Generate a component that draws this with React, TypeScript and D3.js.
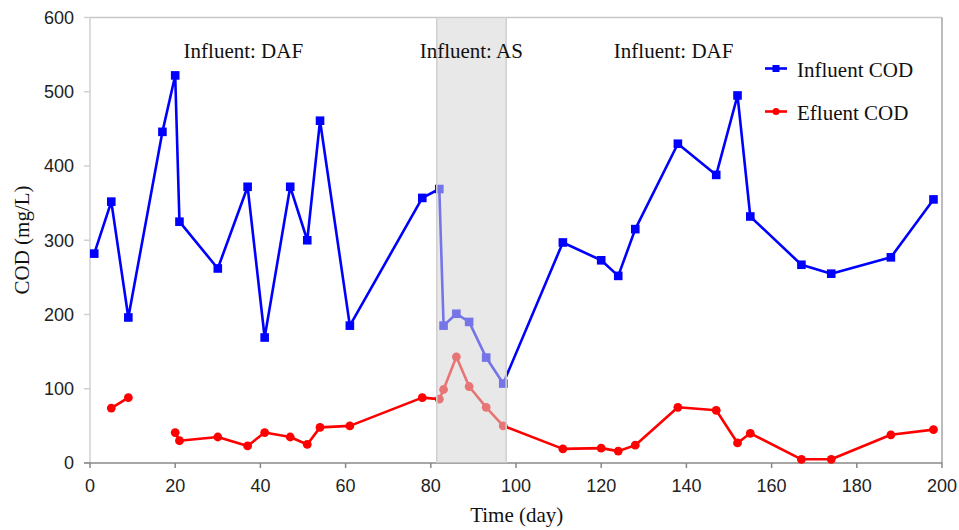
import React from "react";
import * as d3 from "d3";

const influentDays = [1, 5, 9, 17, 20, 21, 30, 37, 41, 47, 51, 54, 61, 78, 82, 83, 86, 89, 93, 97, 111, 120, 124, 128, 138, 147, 152, 155, 167, 174, 188, 198];
const influentCOD = [282, 352, 196, 446, 522, 325, 262, 372, 169, 372, 300, 461, 185, 357, 369, 185, 201, 190, 142, 107, 297, 273, 252, 315, 430, 388, 495, 332, 267, 255, 277, 355];

const effluentDays = [5, 9, 17, 20, 21, 30, 37, 41, 47, 51, 54, 61, 78, 82, 83, 86, 89, 93, 97, 111, 120, 124, 128, 138, 147, 152, 155, 167, 174, 188, 198];
const effluentCOD: (number | null)[] = [74, 88, null, 41, 30, 35, 23, 41, 35, 25, 48, 50, 88, 86, 99, 143, 103, 75, 50, 19, 20, 16, 24, 75, 71, 27, 40, 5, 5, 38, 45];

const xTicks = [0, 20, 40, 60, 80, 100, 120, 140, 160, 180, 200];
const yTicks = [0, 100, 200, 300, 400, 500, 600];

const periods = [
  { label: "Influent: DAF", center: 36 },
  { label: "Influent: AS", center: 89.5 },
  { label: "Influent: DAF", center: 137 },
];
const asStart = 81.4;
const asEnd = 97.7;

const seriesNames = ["Influent COD", "Efluent COD"];

const W = 959;
const H = 530;
const L = 90, R = 942, T = 17.5, B = 463;

const SERIF = "'Liberation Serif', 'Times New Roman', serif";
const SANS = "'Liberation Sans', Arial, sans-serif";

export default function App() {
  const x = d3.scaleLinear().domain([0, 200]).range([L, R]);
  const y = d3.scaleLinear().domain([0, 600]).range([B, T]);

  const inf = influentDays.map((d, i) => ({ d, v: influentCOD[i] as number | null }));
  const eff = effluentDays.map((d, i) => ({ d, v: effluentCOD[i] }));

  const line = d3
    .line<{ d: number; v: number | null }>()
    .defined((p) => p.v !== null)
    .x((p) => x(p.d))
    .y((p) => y(p.v as number));

  const blue = "#0000ff";
  const red = "#ff0000";

  return (
    <svg width={W} height={H} style={{ position: "absolute", left: 0, top: 0, background: "#fff" }}>
      <rect x={0} y={0} width={W} height={H} fill="#fff" />
      {/* frame */}
      <line x1={L} x2={R} y1={T} y2={T} stroke="#c8c8c8" strokeWidth={1.5} />
      <line x1={R} x2={R} y1={T} y2={B} stroke="#a6a6a6" strokeWidth={1.5} />
      <line x1={L} x2={L} y1={T} y2={B} stroke="#d0d0d0" strokeWidth={1.5} />
      {/* y ticks */}
      {yTicks.map((t) => (
        <g key={"y" + t}>
          <line x1={L - 6} x2={L} y1={y(t)} y2={y(t)} stroke="#d0d0d0" strokeWidth={1.5} />
          <text x={74} y={y(t)} dy="0.35em" textAnchor="end" fontFamily={SANS} fontSize={18} fill="#222">
            {t}
          </text>
        </g>
      ))}
      {/* x ticks */}
      {xTicks.map((t) => (
        <g key={"x" + t}>
          <line x1={x(t)} x2={x(t)} y1={B} y2={B + 5} stroke="#888" strokeWidth={1.5} />
          <text x={x(t)} y={486} dy="0.35em" textAnchor="middle" fontFamily={SANS} fontSize={18} fill="#222">
            {t}
          </text>
        </g>
      ))}
      <line x1={L - 6} x2={R} y1={B} y2={B} stroke="#888" strokeWidth={1.5} />

      {/* series */}
      <path d={line(inf) || ""} fill="none" stroke={blue} strokeWidth={2.6} strokeLinejoin="round" />
      {inf.map((p, i) => (
        <rect key={"is" + i} x={x(p.d) - 4.3} y={y(p.v as number) - 4.3} width={8.6} height={8.6} fill={blue} />
      ))}
      <path d={line(eff) || ""} fill="none" stroke={red} strokeWidth={2.6} strokeLinejoin="round" />
      {eff
        .filter((p) => p.v !== null)
        .map((p, i) => (
          <circle key={"ec" + i} cx={x(p.d)} cy={y(p.v as number)} r={4.4} fill={red} />
        ))}

      {/* AS shading on top */}
      <rect
        x={x(asStart)}
        y={T}
        width={x(asEnd) - x(asStart)}
        height={B - T}
        fill="#d6d6d6"
        fillOpacity={0.55}
      />
      <line x1={x(asStart)} x2={x(asStart)} y1={T} y2={B} stroke="#d0d0d0" strokeWidth={1.5} />
      <line x1={x(asEnd)} x2={x(asEnd)} y1={T} y2={B} stroke="#d0d0d0" strokeWidth={1.5} />

      {/* period labels */}
      {periods.map((p, i) => (
        <text key={"p" + i} x={x(p.center)} y={58} textAnchor="middle" fontFamily={SERIF} fontSize={21} fill="#111">
          {p.label}
        </text>
      ))}

      {/* legend */}
      <g>
        <line x1={765} x2={787} y1={68.5} y2={68.5} stroke={blue} strokeWidth={2.6} />
        <rect x={776 - 3.5} y={68.5 - 3.5} width={7} height={7} fill={blue} />
        <text x={797} y={76.5} fontFamily={SERIF} fontSize={21} fill="#111">
          {seriesNames[0]}
        </text>
        <line x1={765} x2={787} y1={111.5} y2={111.5} stroke={red} strokeWidth={2.6} />
        <circle cx={776} cy={111.5} r={3.5} fill={red} />
        <text x={797} y={119.5} fontFamily={SERIF} fontSize={21} fill="#111">
          {seriesNames[1]}
        </text>
      </g>

      {/* axis titles */}
      <text x={516.7} y={522} textAnchor="middle" fontFamily={SERIF} fontSize={21} fill="#111">
        Time (day)
      </text>
      <text transform="translate(29,240) rotate(-90)" textAnchor="middle" fontFamily={SERIF} fontSize={21} fill="#111">
        COD (mg/L)
      </text>
    </svg>
  );
}
